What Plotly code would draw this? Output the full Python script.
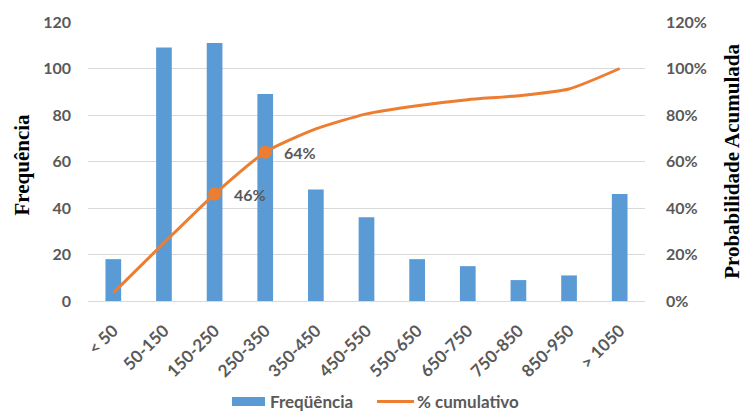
import plotly.graph_objects as go

# Classes de valores e frequências observadas
categorias = ["< 50", "50-150", "150-250", "250-350", "350-450", "450-550",
              "550-650", "650-750", "750-850", "850-950", "> 1050"]
frequencia = [18, 109, 111, 89, 48, 36, 18, 15, 9, 11, 46]
# Probabilidade acumulada (%) por classe
cumulativo = [3.5, 25, 46, 64, 74, 80.5, 84, 86.6, 88.3, 91.2, 100]
# Pontos destacados com rótulo
destaque = [2, 3]

azul = "#5B9BD5"
laranja = "#ED7D31"
cinza = "#595959"

fig = go.Figure()
fig.add_trace(go.Bar(
    x=categorias, y=frequencia, name="Freqüência",
    marker=dict(color=azul, line=dict(width=0)), width=0.31, showlegend=False,
))
fig.add_trace(go.Scatter(
    x=categorias, y=[v / 100 for v in cumulativo], name="% cumulativo",
    mode="lines", line=dict(color=laranja, width=3, shape="spline", smoothing=0.6),
    yaxis="y2", showlegend=False,
))
fig.add_trace(go.Scatter(
    x=[categorias[i] for i in destaque],
    y=[cumulativo[i] / 100 for i in destaque],
    mode="markers", marker=dict(color=laranja, size=13),
    yaxis="y2", showlegend=False, cliponaxis=False,
))

tick_font = dict(family="Lato", size=16, color=cinza, weight="bold")
serif = dict(family="Liberation Serif", size=21, color="black", weight="bold")
leg_font = dict(family="Lato", size=17, color=cinza, weight="bold")

leg_y = -0.3604
anotacoes = [
    dict(text="Frequência", xref="paper", yref="paper", x=-0.118, y=0.49,
         textangle=-90, showarrow=False, xanchor="center", yanchor="middle", font=serif),
    dict(text="Probabilidade Acumulada", xref="paper", yref="paper", x=1.155, y=0.5,
         textangle=-90, showarrow=False, xanchor="center", yanchor="middle", font=serif),
    # legenda
    dict(text="Freqüência", xref="paper", yref="paper", x=0.3232, y=leg_y,
         showarrow=False, xanchor="left", yanchor="middle", font=leg_font),
    dict(text="% cumulativo", xref="paper", yref="paper", x=0.5870, y=leg_y,
         showarrow=False, xanchor="left", yanchor="middle", font=leg_font),
]
# rótulos dos pontos destacados
for i in destaque:
    anotacoes.append(dict(
        text=f"{cumulativo[i]:.0f}%", x=categorias[i], y=cumulativo[i] / 100,
        xref="x", yref="y2", showarrow=False, xanchor="left", yanchor="middle",
        xshift=17, font=dict(family="Lato", size=16, color=cinza, weight="bold"),
    ))

formas = [
    dict(type="rect", xref="paper", yref="paper", x0=0.2585, x1=0.3178,
         y0=leg_y - 0.0159, y1=leg_y + 0.0159, fillcolor=azul, line=dict(width=0)),
    dict(type="line", xref="paper", yref="paper", x0=0.5189, x1=0.5853,
         y0=leg_y, y1=leg_y, line=dict(color=laranja, width=3)),
]

fig.update_layout(
    width=744, height=412,
    margin=dict(l=88, r=99, t=18, b=111),
    paper_bgcolor="white", plot_bgcolor="white",
    showlegend=False,
    xaxis=dict(tickangle=-45, tickfont=dict(family="Lato", size=17, color=cinza, weight="bold"),
               showgrid=False, showline=True, linecolor="#D9D9D9", linewidth=1,
               ticks="", ticklabelstandoff=12),
    yaxis=dict(range=[0, 120], dtick=20, tickfont=tick_font,
               showgrid=True, gridcolor="#D9D9D9", gridwidth=1,
               zeroline=False, ticks="", ticklabelstandoff=16),
    yaxis2=dict(range=[0, 1.2], dtick=0.2, tickformat=".0%", tickfont=tick_font,
                overlaying="y", side="right", showgrid=False, zeroline=False,
                ticks="", ticklabelstandoff=20),
    annotations=anotacoes,
    shapes=formas,
)

fig.write_html("out.html")
